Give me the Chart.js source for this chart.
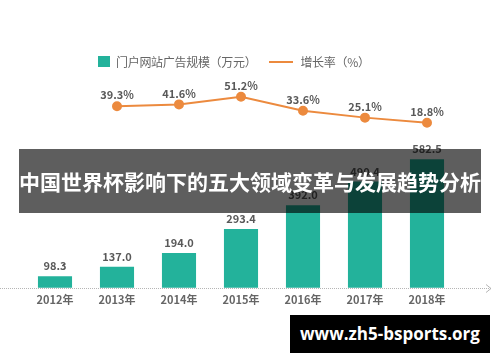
<!DOCTYPE html>
<html>
<head>
<meta charset="utf-8">
<script src="https://cdn.jsdelivr.net/npm/chart.js@4.4.0/dist/chart.umd.min.js"></script>
<style>
  html, body { margin: 0; padding: 0; background: #fff; }
  #wrap { position: relative; width: 500px; height: 362px; overflow: hidden; font-family: "Noto Sans CJK SC", sans-serif; }
  #legend { position: absolute; top: 53px; left: 98px; font-size: 12px; letter-spacing: -0.3px; color: #666; display: flex; align-items: center; white-space: nowrap; z-index: 2; }
  #legend .sq { display: inline-block; width: 12px; height: 11px; background: #23b29b; margin-right: 6px; }
  #legend .ln { display: inline-block; width: 24px; height: 2px; background: #ec8a3e; margin: 0 7px 0 13px; }
  #banner { position: absolute; left: 19px; top: 149px; width: 462px; height: 64px; background: rgba(0,0,0,0.63); color: #fff; font-weight: bold; font-size: 21px; line-height: 64px; text-align: center; white-space: nowrap; z-index: 3; }
  #mark { position: absolute; left: 290px; top: 315px; width: 200px; height: 38px; background: #000; color: #fff; font-family: "Open Sans", sans-serif; font-weight: bold; font-size: 17px; line-height: 38px; text-align: center; z-index: 3; }
</style>
</head>
<body>
<div id="wrap">
  <canvas id="myChart" width="500" height="362"></canvas>
  <div id="legend"></div>
  <div id="banner">中国世界杯影响下的五大领域变革与发展趋势分析</div>
  <div id="mark">www.zh5-bsports.org</div>
</div>
<script>
// data
const years = ['2012年', '2013年', '2014年', '2015年', '2016年', '2017年', '2018年'];
const adSize = [98.3, 137.0, 194.0, 293.4, 392.0, 490.4, 582.5];
const growth = [null, 39.3, 41.6, 51.2, 33.6, 25.1, 18.8];
const seriesNames = ['门户网站广告规模（万元）', '增长率（%）'];

const teal = '#23b29b';
const orange = '#ec8a3e';

Chart.defaults.font.family = '"Noto Sans CJK SC", sans-serif';

document.getElementById('legend').innerHTML =
  '<span class="sq"></span><span>' + seriesNames[0] + '</span>' +
  '<span class="ln"></span><span>' + seriesNames[1] + '</span>';

// dotted base line with an arrow head
const axisLine = {
  id: 'axisLine',
  beforeDatasetsDraw(chart) {
    const ctx = chart.ctx;
    const y = Math.round(chart.chartArea.bottom) + 0.5;
    const end = chart.width - 9;
    ctx.save();
    ctx.strokeStyle = '#b5b5b5';
    ctx.lineWidth = 1;
    ctx.setLineDash([1, 1]);
    ctx.beginPath();
    ctx.moveTo(0, y);
    ctx.lineTo(end, y);
    ctx.stroke();
    ctx.setLineDash([]);
    ctx.beginPath();
    ctx.moveTo(end - 5, y - 4);
    ctx.lineTo(end, y);
    ctx.lineTo(end - 5, y + 4);
    ctx.stroke();
    ctx.restore();
  }
};

const valueLabels = {
  id: 'valueLabels',
  afterDatasetsDraw(chart) {
    const ctx = chart.ctx;
    ctx.save();
    ctx.font = 'bold 11px "Noto Sans CJK SC"';
    ctx.fillStyle = '#595959';
    ctx.textAlign = 'center';
    ctx.textBaseline = 'middle';
    // dataset 1 = bars, dataset 0 = line
    chart.getDatasetMeta(1).data.forEach((el, i) => {
      ctx.fillText(adSize[i].toFixed(1), el.x, el.y - 10);
    });
    chart.getDatasetMeta(0).data.forEach((el, i) => {
      if (growth[i] == null) return;
      ctx.fillText(growth[i].toFixed(1) + '%', el.x, el.y - 11);
    });
    ctx.restore();
  }
};

let ctx1 = document.getElementById('myChart');

new Chart(ctx1, {
  data: {
    labels: years,
    datasets: [{
      type: 'line',
      label: seriesNames[1],
      data: growth,
      yAxisID: 'y1',
      borderColor: orange,
      backgroundColor: orange,
      borderWidth: 2,
      pointRadius: 4,
      pointBackgroundColor: orange,
      pointBorderColor: orange,
      tension: 0,
      order: 0
    }, {
      type: 'bar',
      label: seriesNames[0],
      data: adSize,
      yAxisID: 'y',
      backgroundColor: teal,
      barPercentage: 0.55,
      categoryPercentage: 1,
      order: 1
    }]
  },
  options: {
    responsive: false,
    animation: false,
    layout: { padding: { left: 24, right: 42, top: 80, bottom: 51 } },
    plugins: {
      legend: { display: false },
      tooltip: { enabled: false }
    },
    scales: {
      x: {
        grid: { display: false, drawTicks: false },
        border: { display: false },
        ticks: { color: '#666', font: { size: 11, weight: 'bold' }, padding: 5 }
      },
      y: { display: false, min: 50, max: 911 },
      y1: { display: false, min: -187, max: 72 }
    }
  },
  plugins: [axisLine, valueLabels]
});
</script>
</body>
</html>
